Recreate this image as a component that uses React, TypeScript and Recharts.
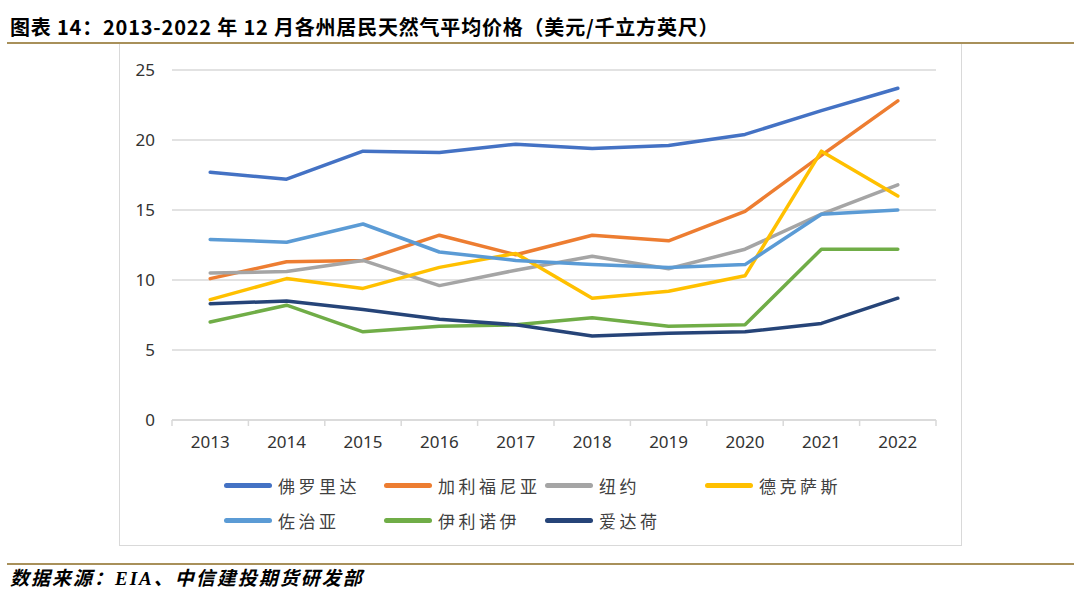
import React from 'react';
import { LineChart, Line, XAxis, YAxis, CartesianGrid } from 'recharts';

const years = ['2013', '2014', '2015', '2016', '2017', '2018', '2019', '2020', '2021', '2022'];
const florida = [17.7, 17.2, 19.2, 19.1, 19.7, 19.4, 19.6, 20.4, 22.1, 23.7];
const california = [10.1, 11.3, 11.4, 13.2, 11.8, 13.2, 12.8, 14.9, 18.9, 22.8];
const newYork = [10.5, 10.6, 11.4, 9.6, 10.7, 11.7, 10.8, 12.2, 14.7, 16.8];
const texas = [8.6, 10.1, 9.4, 10.9, 11.9, 8.7, 9.2, 10.3, 19.2, 16.0];
const georgia = [12.9, 12.7, 14.0, 12.0, 11.4, 11.1, 10.9, 11.1, 14.7, 15.0];
const illinois = [7.0, 8.2, 6.3, 6.7, 6.8, 7.3, 6.7, 6.8, 12.2, 12.2];
const idaho = [8.3, 8.5, 7.9, 7.2, 6.8, 6.0, 6.2, 6.3, 6.9, 8.7];
const yTicks = [0, 5, 10, 15, 20, 25];

const series = [
  { key: 'fl', name: '佛罗里达', values: florida, color: '#4472C4' },
  { key: 'ca', name: '加利福尼亚', values: california, color: '#ED7D31' },
  { key: 'ny', name: '纽约', values: newYork, color: '#A5A5A5' },
  { key: 'tx', name: '德克萨斯', values: texas, color: '#FFC000' },
  { key: 'ga', name: '佐治亚', values: georgia, color: '#5B9BD5' },
  { key: 'il', name: '伊利诺伊', values: illinois, color: '#70AD47' },
  { key: 'id', name: '爱达荷', values: idaho, color: '#264478' },
];

const data = years.map((year, i) => {
  const row: Record<string, any> = { year };
  series.forEach((s) => {
    row[s.key] = s.values[i];
  });
  return row;
});

const HALF_STEP = 38.2;
const NUM_FONT = "'Noto Sans', 'DejaVu Sans', sans-serif";
const CJK_FONT = "'Noto Sans CJK SC', sans-serif";

const XTick = (props: any) => {
  const { x, y, payload, index } = props;
  const last = index === years.length - 1;
  return (
    <g>
      <line x1={x - HALF_STEP} y1={y} x2={x - HALF_STEP} y2={y + 6} stroke="#D9D9D9" strokeWidth={1.5} />
      {last && <line x1={x + HALF_STEP} y1={y} x2={x + HALF_STEP} y2={y + 6} stroke="#D9D9D9" strokeWidth={1.5} />}
      <text x={x} y={y + 21} textAnchor="middle" dominantBaseline="central" fill="#333" fontSize={17} fontFamily={NUM_FONT}>
        {payload.value}
      </text>
    </g>
  );
};

const legendCols = [224, 384, 545, 705];
const legendRows = [485, 520];

export default function App() {
  return (
    <div style={{ position: 'absolute', left: 0, top: 0, width: 1080, height: 604, background: '#fff', overflow: 'hidden' }}>
      <div
        style={{
          position: 'absolute',
          left: 10,
          top: 14,
          fontFamily: CJK_FONT,
          fontWeight: 700,
          fontSize: 20,
          letterSpacing: 0.8,
          lineHeight: '26px',
          color: '#000',
          whiteSpace: 'nowrap',
        }}
      >
        图表 14：2013-2022 年 12 月各州居民天然气平均价格（美元/千立方英尺）
      </div>
      <div style={{ position: 'absolute', left: 7, top: 42, width: 1067, height: 2, background: '#A8905A' }} />

      <div
        style={{
          position: 'absolute',
          left: 119,
          top: 44,
          width: 841,
          height: 501,
          border: '1.5px solid #D9D9D9',
          borderTop: 'none',
        }}
      />

      <div style={{ position: 'absolute', left: 119, top: 43 }}>
        <LineChart width={843} height={504} data={data} margin={{ top: 27, right: 26, left: 0, bottom: 97 }}>
          <CartesianGrid vertical={false} stroke="#D9D9D9" strokeWidth={1.5} />
          <XAxis
            dataKey="year"
            padding={{ left: HALF_STEP, right: HALF_STEP }}
            axisLine={{ stroke: '#D9D9D9', strokeWidth: 1.5 }}
            tickLine={false}
            tickSize={0}
            tickMargin={0}
            height={30}
            interval={0}
            tick={<XTick />}
          />
          <YAxis
            domain={[0, 25]}
            ticks={yTicks}
            width={53}
            axisLine={false}
            tickLine={false}
            tickSize={0}
            tickMargin={17}
            tick={{ fill: '#333', fontSize: 17, fontFamily: NUM_FONT }}
          />
          {series.map((s) => (
            <Line
              key={s.key}
              dataKey={s.key}
              name={s.name}
              type="linear"
              stroke={s.color}
              strokeWidth={3.5}
              strokeLinejoin="round"
              strokeLinecap="round"
              dot={false}
              activeDot={false}
              isAnimationActive={false}
            />
          ))}
        </LineChart>
      </div>

      {series.map((s, i) => {
        const left = legendCols[i % 4];
        const top = legendRows[Math.floor(i / 4)];
        return (
          <div key={s.key} style={{ position: 'absolute', left, top: top - 12, height: 24, display: 'flex', alignItems: 'center' }}>
            <div style={{ width: 48, height: 5, borderRadius: 3, background: s.color }} />
            <span
              style={{
                marginLeft: 6,
                fontFamily: CJK_FONT,
                fontSize: 17,
                letterSpacing: 3.5,
                color: '#404040',
                whiteSpace: 'nowrap',
              }}
            >
              {s.name}
            </span>
          </div>
        );
      })}

      <div style={{ position: 'absolute', left: 7, top: 563, width: 1067, height: 2, background: '#A8905A' }} />
      <div
        style={{
          position: 'absolute',
          left: 10,
          top: 567,
          fontFamily: "'Liberation Serif', " + CJK_FONT,
          fontStyle: 'italic',
          fontWeight: 700,
          fontSize: 19,
          letterSpacing: 2,
          lineHeight: '24px',
          color: '#000',
          whiteSpace: 'nowrap',
        }}
      >
        数据来源：EIA、中信建投期货研发部
      </div>
    </div>
  );
}
